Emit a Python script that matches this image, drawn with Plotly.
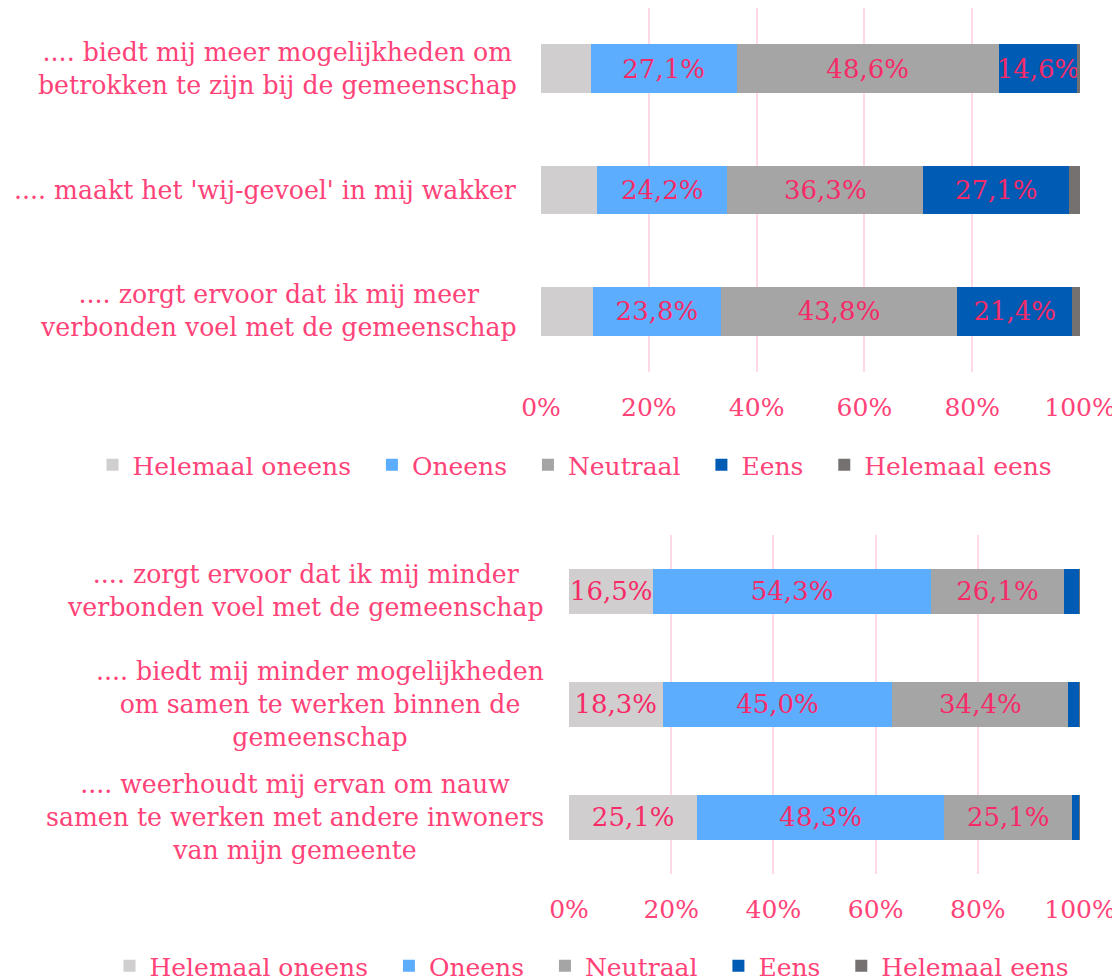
import plotly.graph_objects as go

series_names = ["Helemaal oneens", "Oneens", "Neutraal", "Eens", "Helemaal eens"]
series_colors = ["#D0CECE", "#5DADFF", "#A5A5A5", "#005BB5", "#767171"]

top_categories = [
    ".... biedt mij meer mogelijkheden om<br>betrokken te zijn bij de gemeenschap",
    ".... maakt het 'wij-gevoel' in mij wakker",
    ".... zorgt ervoor dat ik mij meer<br>verbonden voel met de gemeenschap",
]
top_values = {
    "Helemaal oneens": [9.2, 10.4, 9.6],
    "Oneens": [27.1, 24.2, 23.8],
    "Neutraal": [48.6, 36.3, 43.8],
    "Eens": [14.6, 27.1, 21.4],
    "Helemaal eens": [0.5, 2.0, 1.4],
}

bottom_categories = [
    ".... zorgt ervoor dat ik mij minder<br>verbonden voel met de gemeenschap",
    ".... biedt mij minder mogelijkheden<br>om samen te werken binnen de<br>gemeenschap",
    ".... weerhoudt mij ervan om nauw<br>samen te werken met andere inwoners<br>van mijn gemeente",
]
bottom_values = {
    "Helemaal oneens": [16.5, 18.3, 25.1],
    "Oneens": [54.3, 45.0, 48.3],
    "Neutraal": [26.1, 34.4, 25.1],
    "Eens": [3.0, 2.2, 1.4],
    "Helemaal eens": [0.1, 0.1, 0.1],
}

tick_vals = [0, 20, 40, 60, 80, 100]
tick_text = ["0%", "20%", "40%", "60%", "80%", "100%"]

FONT = "DejaVu Serif"
PINK = "#FF4278"
LABEL_PINK = "#F72A68"
GRID = "#FFD9E6"
FS = 26
CAT_FS = 25.2
LABEL_MIN = 12
PAD = "\u00a0\u00a0"

# The page body has an 8px margin; the figure fills the rest of the window.
W, H = 1112, 972
OFF = 8


def px_x(x):
    return (x - OFF) / W


def px_y(y):
    return max(0.0, min(1.0, 1 - (y - OFF) / H))


def fmt(v):
    return (f"{v:.1f}".replace(".", ",") + "%") if v >= LABEL_MIN else ""


def legend_name(i, name):
    return name + PAD if i < len(series_names) - 1 else name


fig = go.Figure()

for i, (name, color) in enumerate(zip(series_names, series_colors)):
    vals = top_values[name]
    fig.add_trace(go.Bar(
        y=top_categories, x=vals, name=legend_name(i, name), orientation="h",
        marker=dict(color=color, line=dict(width=0)),
        text=[fmt(v) for v in vals], textposition="inside",
        insidetextanchor="middle",
        textfont=dict(family=FONT, size=FS, color=LABEL_PINK),
        xaxis="x", yaxis="y", legend="legend", hoverinfo="skip",
    ))

for i, (name, color) in enumerate(zip(series_names, series_colors)):
    vals = bottom_values[name]
    fig.add_trace(go.Bar(
        y=bottom_categories, x=vals, name=legend_name(i, name), orientation="h",
        marker=dict(color=color, line=dict(width=0)),
        text=[fmt(v) for v in vals], textposition="inside",
        insidetextanchor="middle",
        textfont=dict(family=FONT, size=FS, color=LABEL_PINK),
        xaxis="x2", yaxis="y2", legend="legend2", hoverinfo="skip",
    ))

axis_common = dict(
    range=[0, 100], tickvals=tick_vals, ticktext=tick_text,
    showgrid=True, gridcolor=GRID, gridwidth=2, zeroline=False,
    showline=False, ticks="", ticklabelstandoff=18,
    tickfont=dict(family=FONT, size=25, color=PINK), fixedrange=True,
    automargin=False,
)

annotations = []
for cat in top_categories:
    annotations.append(dict(
        x=0, xref="x domain", y=cat, yref="y", xanchor="right", yanchor="middle",
        xshift=-22, text=cat, showarrow=False, align="center",
        font=dict(family=FONT, size=CAT_FS, color=PINK),
    ))
for cat in bottom_categories:
    annotations.append(dict(
        x=0, xref="x2 domain", y=cat, yref="y2", xanchor="right", yanchor="middle",
        xshift=-23, text=cat, showarrow=False, align="center",
        font=dict(family=FONT, size=CAT_FS, color=PINK),
    ))

legend_common = dict(
    orientation="h", xanchor="center", yanchor="middle",
    font=dict(family=FONT, size=FS - 1, color=PINK), bgcolor="rgba(0,0,0,0)",
    traceorder="normal",
)

fig.update_layout(
    width=W, height=H,
    margin=dict(l=0, r=0, t=0, b=0, autoexpand=False),
    paper_bgcolor="white", plot_bgcolor="white",
    barmode="stack", bargap=0.6,
    font=dict(family=FONT, size=FS, color=PINK),
    xaxis=dict(domain=[px_x(541), px_x(1080)], anchor="y", **axis_common),
    yaxis=dict(domain=[px_y(372), px_y(7)], anchor="x",
               categoryorder="array", categoryarray=top_categories,
               autorange="reversed", showticklabels=False, showgrid=False,
               zeroline=False, fixedrange=True, automargin=False),
    xaxis2=dict(domain=[px_x(569), px_x(1080)], anchor="y2", **axis_common),
    yaxis2=dict(domain=[px_y(873.5), px_y(535)], anchor="x2",
                categoryorder="array", categoryarray=bottom_categories,
                autorange="reversed", showticklabels=False, showgrid=False,
                zeroline=False, fixedrange=True, automargin=False),
    legend=dict(x=px_x(575), y=px_y(465), **legend_common),
    legend2=dict(x=px_x(592), y=px_y(966), **legend_common),
    uniformtext=dict(minsize=FS, mode="show"),
    annotations=annotations,
    showlegend=True,
)

fig.write_html("out.html")
